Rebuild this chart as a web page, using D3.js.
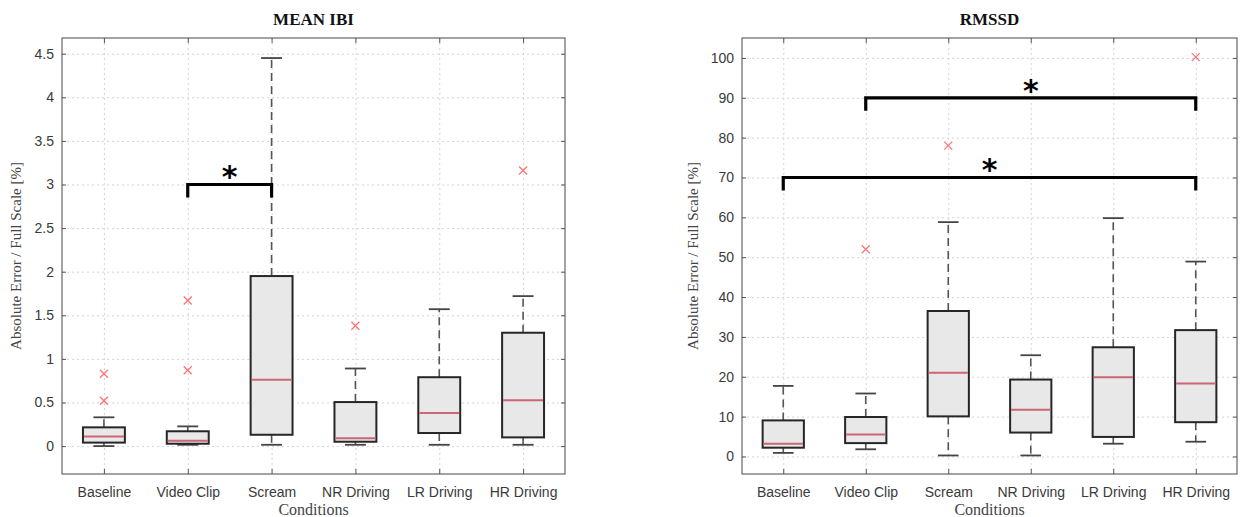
<!DOCTYPE html>
<html>
<head>
<meta charset="utf-8">
<script src="https://cdn.jsdelivr.net/npm/d3@7"></script>
<style>
  body { margin: 0; background: #fff; }
  .tick text { font-family: "Liberation Sans", Arial, sans-serif; font-size: 14px; fill: #3a3a3a; }
  .grid line { stroke: #d4d4d4; stroke-dasharray: 2, 3; }
  .grid path, .frame-axis path { display: none; }
  .frame-axis line { stroke: #555; }
  .axis-label { font-family: "Liberation Serif", "Times New Roman", serif; font-size: 15px; fill: #444; }
  .title { font-family: "Liberation Serif", "Times New Roman", serif; font-size: 17px; font-weight: bold; fill: #111; }
</style>
</head>
<body>
<svg class="chart"></svg>
<script>
// DATA ///////////////////////////////////////////
const categories = ["Baseline", "Video Clip", "Scream", "NR Driving", "LR Driving", "HR Driving"];

// MEAN IBI
const ibiLow = [0.0, 0.015, 0.015, 0.015, 0.015, 0.015];
const ibiQ1 = [0.04, 0.027, 0.13, 0.05, 0.15, 0.1];
const ibiMedian = [0.11, 0.06, 0.76, 0.09, 0.38, 0.525];
const ibiQ3 = [0.215, 0.17, 1.95, 0.505, 0.79, 1.3];
const ibiHigh = [0.33, 0.226, 4.45, 0.89, 1.57, 1.72];
const ibiOutliers = [[0.52, 0.83], [0.87, 1.67], [], [1.38], [], [3.16]];
const ibiTicks = [0, 0.5, 1, 1.5, 2, 2.5, 3, 3.5, 4, 4.5];
const ibiSig = [{ from: 2, to: 3, level: 3.0 }];

// RMSSD
const rmssdLow = [0.9, 1.8, 0.25, 0.25, 3.2, 3.7];
const rmssdQ1 = [2.2, 3.35, 10.06, 6.0, 4.9, 8.6];
const rmssdMedian = [3.2, 5.5, 21, 11.7, 19.9, 18.3];
const rmssdQ3 = [9.05, 9.9, 36.5, 19.3, 27.4, 31.7];
const rmssdHigh = [17.7, 15.8, 58.8, 25.4, 59.8, 48.9];
const rmssdOutliers = [[], [52], [78], [], [], [100.2]];
const rmssdTicks = [0, 10, 20, 30, 40, 50, 60, 70, 80, 90, 100];
const rmssdSig = [{ from: 1, to: 6, level: 70 }, { from: 2, to: 6, level: 90 }];

// SETUP //////////////////////////////////////////
const W = 1241, H = 517;
const svg = d3.select(".chart").attr("width", W).attr("height", H);

const drawPanel = (cfg) => {
  const { left, right, top, bottom } = cfg.frame;
  const w = right - left, h = bottom - top;
  const g = svg.append("g").attr("transform", `translate(${left}, ${top})`);

  const x = d3.scaleLinear().domain([0.5, categories.length + 0.5]).range([0, w]);
  const y = d3.scaleLinear().domain(cfg.yDomain).range([h, 0]);
  const xs = d3.range(1, categories.length + 1);

  // grid
  g.append("g").attr("class", "grid")
    .call(d3.axisLeft(y).tickValues(cfg.ticks).tickSize(-w).tickFormat(""));
  g.append("g").attr("class", "grid")
    .call(d3.axisBottom(x).tickValues(xs).tickSize(h).tickFormat(""));

  // frame
  g.append("rect").attr("width", w).attr("height", h)
    .attr("fill", "none").attr("stroke", "#666").attr("stroke-width", 1.2);

  // axes with inward ticks
  g.append("g").attr("class", "frame-axis")
    .call(d3.axisLeft(y).tickValues(cfg.ticks).tickSizeInner(-4).tickSizeOuter(0).tickPadding(8)
      .tickFormat((d) => String(d)));
  g.append("g").attr("class", "frame-axis").attr("transform", `translate(${w},0)`)
    .call(d3.axisRight(y).tickValues(cfg.ticks).tickSizeInner(-4).tickSizeOuter(0).tickFormat(""));
  g.append("g").attr("class", "frame-axis").attr("transform", `translate(0,${h})`)
    .call(d3.axisBottom(x).tickValues(xs).tickSizeInner(-5).tickSizeOuter(0).tickPadding(13)
      .tickFormat((d) => categories[d - 1]));
  g.append("g").attr("class", "frame-axis")
    .call(d3.axisTop(x).tickValues(xs).tickSizeInner(-5).tickSizeOuter(0).tickFormat(""));

  // boxes
  const bw = x(1.25) - x(1);
  const cw = x(1.125) - x(1);
  const boxes = g.selectAll(".box").data(xs).enter().append("g").attr("class", "box");

  boxes.append("line") // upper whisker
    .attr("x1", (d) => x(d)).attr("x2", (d) => x(d))
    .attr("y1", (d) => y(cfg.q3[d - 1])).attr("y2", (d) => y(cfg.high[d - 1]))
    .attr("stroke", "#555").attr("stroke-width", 1.6).attr("stroke-dasharray", "8,5");
  boxes.append("line") // lower whisker
    .attr("x1", (d) => x(d)).attr("x2", (d) => x(d))
    .attr("y1", (d) => y(cfg.q1[d - 1])).attr("y2", (d) => y(cfg.low[d - 1]))
    .attr("stroke", "#555").attr("stroke-width", 1.6).attr("stroke-dasharray", "8,5");
  ["high", "low"].forEach((k) => {
    boxes.append("line")
      .attr("x1", (d) => x(d) - cw).attr("x2", (d) => x(d) + cw)
      .attr("y1", (d) => y(cfg[k][d - 1])).attr("y2", (d) => y(cfg[k][d - 1]))
      .attr("stroke", "#444").attr("stroke-width", 1.8);
  });
  boxes.append("rect")
    .attr("x", (d) => x(d) - bw)
    .attr("width", 2 * bw)
    .attr("y", (d) => y(cfg.q3[d - 1]))
    .attr("height", (d) => y(cfg.q1[d - 1]) - y(cfg.q3[d - 1]))
    .attr("fill", "#e8e8e8").attr("stroke", "#262626").attr("stroke-width", 2);
  boxes.append("line")
    .attr("x1", (d) => x(d) - bw + 1).attr("x2", (d) => x(d) + bw - 1)
    .attr("y1", (d) => y(cfg.median[d - 1])).attr("y2", (d) => y(cfg.median[d - 1]))
    .attr("stroke", "#cc6672").attr("stroke-width", 2);

  // outliers
  const outs = xs.flatMap((d) => cfg.outliers[d - 1].map((v) => ({ c: d, v })));
  const m = 4;
  g.selectAll(".out").data(outs).enter().append("path")
    .attr("d", (o) => {
      const cx = x(o.c), cy = y(o.v);
      return `M${cx - m},${cy - m}L${cx + m},${cy + m}M${cx - m},${cy + m}L${cx + m},${cy - m}`;
    })
    .attr("stroke", "#ff7070").attr("stroke-width", 1.2).attr("fill", "none");

  // significance brackets
  const drop = 13;
  cfg.sig.forEach((s) => {
    const yy = y(s.level);
    g.append("path")
      .attr("d", `M${x(s.from)},${yy + drop}V${yy}H${x(s.to)}V${yy + drop}`)
      .attr("fill", "none").attr("stroke", "#000").attr("stroke-width", 3.2);
    g.append("text")
      .attr("x", (x(s.from) + x(s.to)) / 2)
      .attr("y", yy + 3)
      .attr("text-anchor", "middle")
      .style("font-family", "DejaVu Sans, sans-serif")
      .style("font-size", "30px").style("font-weight", "bold")
      .text("*");
  });

  // labels
  g.append("text").attr("class", "title")
    .attr("x", w / 2).attr("y", -13).attr("text-anchor", "middle").text(cfg.title);
  g.append("text").attr("class", "axis-label")
    .style("font-size", "16px")
    .attr("x", w / 2).attr("y", h + 41).attr("text-anchor", "middle").text("Conditions");
  g.append("text").attr("class", "axis-label")
    .attr("transform", `translate(${cfg.ylabelX}, ${h / 2}) rotate(-90)`)
    .attr("text-anchor", "middle").text("Absolute Error / Full Scale [%]");
};

drawPanel({
  title: "MEAN IBI",
  frame: { left: 62, right: 565, top: 38, bottom: 474 },
  yDomain: [-0.32, 4.68],
  ticks: ibiTicks,
  low: ibiLow, q1: ibiQ1, median: ibiMedian, q3: ibiQ3, high: ibiHigh,
  outliers: ibiOutliers, sig: ibiSig, ylabelX: -41
});

drawPanel({
  title: "RMSSD",
  frame: { left: 742, right: 1237, top: 38, bottom: 474 },
  yDomain: [-4.4, 105],
  ticks: rmssdTicks,
  low: rmssdLow, q1: rmssdQ1, median: rmssdMedian, q3: rmssdQ3, high: rmssdHigh,
  outliers: rmssdOutliers, sig: rmssdSig, ylabelX: -44
});
</script>
</body>
</html>
